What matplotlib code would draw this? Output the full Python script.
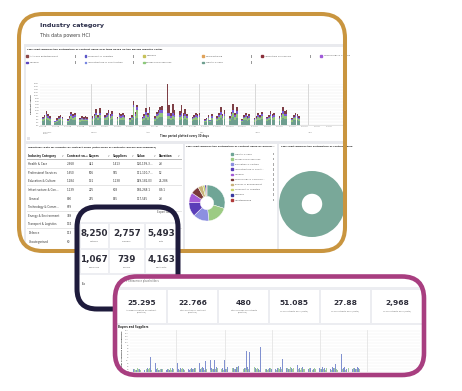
import matplotlib
matplotlib.use("Agg")
import matplotlib.pyplot as plt
from matplotlib.patches import FancyBboxPatch, Rectangle
from matplotlib.transforms import blended_transform_factory
import numpy as np
import pandas as pd

plt.rcParams['font.family'] = ['DejaVu Sans']

W, H = 462, 391

# ---------------- data ----------------
card_title = "Industry category"
card_subtitle = "This data powers HCI"
chart1_title = ("This chart displays the distribution of contract value over time "
                "based on the buying industry sector")
chart1_ylabel = "Contract value"
chart1_xlabel = "Time period plotted every 30 days"

legend_row1 = ["Arts and Entertainment", "Transport & Logistics", "Defence",
               "Manufacturing", "Agriculture & Fisheries", "Technology & Comms"]
legend_row1_colors = ["#8C4A4A", "#5A55C8", "#C7C25A", "#E0A35A", "#8B2F3A", "#A05AD8"]
legend_row2 = ["General", "Infrastructure & Construction", "Professional Services", "Health & Care"]
legend_row2_colors = ["#5B45C0", "#7080E0", "#8CC97A", "#6E9E8F"]

origin_date = "2020-02-02"
first_bar_date = "2020-02-03"
month_starts = ["2020-03-01", "2020-04-01", "2020-05-01", "2020-06-01", "2020-07-01"]
month_label_dates = ["2020-02-03", "2020-03-01", "2020-04-01", "2020-05-01", "2020-06-01", "2020-07-01"]
month_label_names = ["February\n2020", "March", "April", "May", "June", "July"]

# daily (weekday) contract value per sector, stacked
health_care = [4,5,6,5,4, 2,3,4,5,4, 3,4,6,5,5, 3,4,4,4,4, 4,5,7,5,7,
               5,5,7,5,6, 4,5,5,5,5, 3,5,8,6,7, 4,5,7,5,8, 4,6,7,8,8,
               6,6,5,6,5, 5,6,5,6,5, 4,5,5,5,5, 3,3,5,3,5, 4,5,7,5,6,
               4,6,8,5,7, 3,5,5,4,5, 3,4,5,5,6, 4,5,6,5,5, 4,5,7,6,6,
               3,5,5,5,4]
professional = [2,2,3,2,2, 1,1,2,2,2, 1,2,3,2,3, 2,2,1,2,1, 2,2,3,2,3,
                2,3,3,2,3, 2,3,2,3,2, 2,2,10,3,8, 2,2,3,3,4, 2,3,3,4,4,
                3,3,2,3,3, 3,3,2,3,2, 2,2,3,2,3, 1,2,2,1,2, 2,3,3,2,3,
                2,3,4,3,4, 1,2,3,2,2, 2,2,3,2,3, 2,2,3,2,3, 2,3,4,3,3,
                2,2,3,2,2]
infrastructure = [1,1,2,2,1, 1,1,1,1,1, 1,1,2,2,2, 1,1,1,1,1, 1,2,2,1,2,
                  1,2,2,2,2, 1,2,2,2,1, 1,1,3,2,3, 1,2,3,2,3, 1,2,2,3,3,
                  3,3,2,3,2, 2,3,2,2,2, 1,1,2,2,2, 1,1,1,1,2, 1,2,3,2,2,
                  1,2,3,2,3, 1,1,2,1,2, 1,1,2,1,2, 1,1,2,2,2, 1,2,3,2,2,
                  1,1,2,2,1]
other_sectors = [1,2,3,2,2, 0,2,2,2,1, 1,2,2,2,2, 1,2,2,2,2, 2,2,4,2,5,
                 2,2,3,2,3, 1,2,2,2,2, 1,2,4,2,2, 1,2,4,2,3, 2,2,3,3,4,
                 30,8,3,10,5, 4,8,3,5,2, 1,2,2,2,2, 1,1,2,0,2, 2,2,5,2,4,
                 2,2,6,2,4, 1,2,2,2,2, 1,2,2,2,2, 1,2,3,2,2, 2,2,4,3,4,
                 1,2,2,2,2]
stack_colors = ["#6E9E8F", "#93C47D", "#7B5CD6", "#7E3F46"]

# table
table_title = "Industries: Data for Industry by contract value (Total value of contracts, buyers and suppliers)"
table_headers = ["Industry Category", "Contract va...", "Buyers", "Suppliers", "Value", "Duration"]
table_rows = [
    ["Health & Care", "2,668", "441", "1,413", "120,199,3...", "2d"],
    ["Professional Services", "1,650", "506", "985", "111,110,7...", "12"],
    ["Education & Culture", "1,284", "131", "1,138", "149,182,03", "25,286"],
    ["Infrastructure & Con...", "1,139", "225", "608", "186,268.1", "8.3/1"],
    ["General", "800", "235", "545", "117,545", "2d"],
    ["Technology & Comm...", "659", "", "", "", ""],
    ["Energy & Environment", "389", "", "", "", ""],
    ["Transport & Logistics", "174", "", "", "", ""],
    ["Defence", "113", "", "", "", ""],
    ["Uncategorised", "60", "", "", "", ""],
]

# pie
pie_title = "This chart displays the distribution of contract value by buying..."
pie_labels = ["Health & Care", "Professional Services", "Education & Culture",
              "Infrastructure & Const...", "General", "Technology & Commun...",
              "Energy & Environment", "Transport & Logistics", "Defence", "Uncategorised"]
pie_values = [2668, 1650, 1284, 1139, 800, 659, 389, 174, 113, 60]
pie_colors = ["#6FA596", "#9CCB83", "#8C8FE0", "#5A3DB8", "#A45CD6",
              "#7A3A3A", "#C9B27A", "#C8D36A", "#3A3AA0", "#B03A3A"]

right_title = "This chart displays the distribution of contract value"
right_values = [1]
right_colors = ["#79A899"]

# KPI card (navy)
kpi2_values = ["8,250", "2,757", "5,493", "1,067", "739", "4,163"]
kpi2_labels = ["Notices", "Tenders", "Lots", "Suppliers", "Buyers", "Contracts"]

# KPI card (magenta)
kpi3_values = ["25.295", "22.766", "480", "51.085", "27.88", "2,968"]
kpi3_labels = ["Average duration of contract\n(months)", "Total duration of contract\n(months)",
               "Total number of contracts\n(months)", "% of contracts for 1 (Outs)",
               "% of contracts for 2 (Outs)", "% of contracts for 3 (Outs)"]
chart3_title = "Buyers and Suppliers"
chart3_ylabel = "Number of Buyers and Suppliers"
buyers = [3,4,2,5,3, 2,3,4,3,15, 9,3,2,4,3, 2,3,2,3,4, 9,3,4,2,3,
          3,2,4,3,4, 9,3,5,4,11, 12,4,3,12,5, 12,4,12,3,5, 12,4,3,5,6,
          42,4,22,5,20, 10,4,8,3,26, 4,3,5,4,3, 3,4,3,5,13, 4,3,5,4,12,
          7,4,3,5,9, 3,4,5,3,4, 4,3,5,4,8, 3,5,4,8,4, 18,4,5,3,6,
          3,4,3,5,4]
suppliers = [3,2,4,3,2, 2,3,3,4,2, 3,4,2,3,3, 2,3,4,2,3, 3,2,3,4,2,
             4,3,2,3,4, 3,4,3,2,3, 2,3,5,3,4, 3,2,4,3,2, 4,3,3,5,3,
             3,4,2,3,4, 5,3,4,2,3, 3,2,3,4,3, 2,4,3,3,2, 4,3,5,3,4,
             3,2,4,3,3, 4,3,2,4,3, 3,4,3,2,4, 2,3,4,3,2, 3,4,2,3,4,
             4,3,3,2,3]

GOLD = "#C9953F"
NAVY = "#1E1B3C"
MAG = "#A83E80"
BG_GREY = "#E9EAEE"
TXT = "#2B2E4A"

# ---------------- helpers ----------------
fig = plt.figure(figsize=(W / 100, H / 100), dpi=100)


def layer(z):
    ax = fig.add_axes([0, 0, 1, 1])
    ax.set_xlim(0, W)
    ax.set_ylim(H, 0)
    ax.axis('off')
    ax.set_zorder(z)
    return ax


def box_axes(x0, y0, x1, y1, z):
    ax = fig.add_axes([x0 / W, 1 - y1 / H, (x1 - x0) / W, (y1 - y0) / H])
    ax.set_zorder(z)
    ax.patch.set_alpha(0)
    return ax


def rect(ax, x0, y0, x1, y1, color, clip=None, z=2):
    r = Rectangle((x0, y0), x1 - x0, y1 - y0, facecolor=color, edgecolor='none', zorder=z)
    ax.add_patch(r)
    if clip is not None:
        r.set_clip_path(clip)
    return r


def rounded(ax, x0, y0, x1, y1, rad, fc, ec, lw, z):
    p = FancyBboxPatch((x0, y0), x1 - x0, y1 - y0,
                       boxstyle=f"round,pad=0,rounding_size={rad}",
                       facecolor=fc, edgecolor=ec, linewidth=lw, zorder=z)
    ax.add_patch(p)
    return p


def txt(ax, x, y, s, size, color=TXT, weight='normal', ha='left', va='center', z=5, **kw):
    return ax.text(x, y, s, fontsize=size, color=color, fontweight=weight,
                   ha=ha, va=va, zorder=z, **kw)


def to_days(dates):
    return (pd.to_datetime(dates) - pd.Timestamp(origin_date)).days.values


bar_days = to_days(pd.bdate_range(first_bar_date, periods=len(health_care)))
week_ticks = pd.date_range(first_bar_date, periods=24, freq="7D")
week_days = to_days(week_ticks)
week_labels = [d.strftime("%d %b") for d in week_ticks]
sep_days = to_days(month_starts)

# ================= CARD 1 (gold) =================
L0 = layer(0)
c1 = rounded(L0, 19, 14, 345, 251, 24, "white", "none", 0, 1)
rect(L0, 24, 44, 347, 253, BG_GREY, clip=c1)
rect(L0, 26, 47, 347, 140.5, "white", clip=c1, z=3)
rect(L0, 26, 143.5, 182.5, 253, "white", clip=c1, z=3)
rect(L0, 184.5, 143.5, 277, 253, "white", clip=c1, z=3)
rect(L0, 279, 143.5, 347, 253, "white", clip=c1, z=3)

txt(L0, 40, 25.5, card_title, 4.6, TXT, 'bold')
txt(L0, 40, 35, card_subtitle, 3.4, "#444444")

txt(L0, 27, 49.5, chart1_title, 1.75, "#222222", 'bold')
leg_x = [27, 85.5, 144, 203, 262, 321]
leg_sep = [75, 133, 192.5, 251, 310]
for i, (lab, col) in enumerate(zip(legend_row1, legend_row1_colors)):
    L0.add_patch(Rectangle((leg_x[i] - 0.8, 55.2), 1.6, 1.6, color=col, zorder=5))
    txt(L0, leg_x[i] + 2.5, 56, lab, 1.7, "#555555")
for i, (lab, col) in enumerate(zip(legend_row2, legend_row2_colors)):
    L0.add_patch(Rectangle((leg_x[i] - 0.8, 61.9), 1.6, 1.6, color=col, zorder=5))
    txt(L0, leg_x[i] + 2.5, 62.7, lab, 1.7, "#555555")
for sx in leg_sep:
    rect(L0, sx, 54.5, sx + 0.6, 57.5, "#9A9A9A", z=5)
for sx in leg_sep[:4]:
    rect(L0, sx, 61.2, sx + 0.6, 64.2, "#9A9A9A", z=5)

txt(L0, 185, 136, chart1_xlabel, 1.8, "#333333", 'bold', ha='center')
rect(L0, 26.5, 136.5, 30, 140, "#E3E3E8", z=5)

# stacked bar chart
ax1 = box_axes(40, 84, 344, 125, 1)
bottom = np.zeros(len(bar_days))
for vals, col in zip([health_care, professional, infrastructure, other_sectors], stack_colors):
    ax1.bar(bar_days, vals, width=0.9, bottom=bottom, color=col, linewidth=0, zorder=3)
    bottom += np.array(vals)
ax1.set_xlim(-0.56, 170.2)
ax1.set_ylim(0, 42)
for s in ['top', 'right', 'left']:
    ax1.spines[s].set_visible(False)
ax1.spines['bottom'].set_color("#CCCCCC")
ax1.spines['bottom'].set_linewidth(0.4)
ax1.set_yticks(np.arange(0, 43, 3))
ax1.set_yticklabels([f"{2 * i}M" for i in range(15)], fontsize=1.5, color="#888888")
ax1.set_xticks(week_days)
ax1.set_xticklabels(week_labels, fontsize=1.5, color="#888888")
ax1.tick_params(length=0, pad=0.8)
ax1.grid(axis='y', color="#DDDDDD", linestyle=(0, (1, 1)), linewidth=0.35, zorder=0)
for d in sep_days:
    ax1.axvline(d, color="#D2D2D2", linewidth=0.6, zorder=1)
trans1 = blended_transform_factory(ax1.transData, ax1.transAxes)
for d, name in zip(to_days(month_label_dates), month_label_names):
    ax1.text(d, -0.16, name, transform=trans1, fontsize=1.5, color="#888888", va='top', ha='left')
ax1.set_ylabel(chart1_ylabel, fontsize=1.7, fontweight='bold', color="#333333", labelpad=1.5)

# table
txt(L0, 28, 147, table_title, 1.7, "#222222", 'bold')
col_x = [28.5, 67, 89, 113, 136.5, 159]
col_caret = [62, 86, 108, 132, 154, 178]
for x, hd, cx in zip(col_x, table_headers, col_caret):
    txt(L0, x, 155.7, hd, 2.0, "#222222", 'bold')
    txt(L0, cx, 155.7, "v", 1.8, "#777777")
rect(L0, 27, 159.2, 182, 159.7, "#BBBBBB", z=4)
row_y = 164.2
for row in table_rows:
    for x, val in zip(col_x, row):
        if val:
            txt(L0, x, row_y, val, 2.0, "#333333")
    rect(L0, 27, row_y + 4.1, 182, row_y + 4.4, "#E6E6E6", z=4)
    row_y += 8.6

# pie panel
txt(L0, 186, 146.5, pie_title, 1.7, "#222222", 'bold')
axp = box_axes(189, 185, 225, 221, 1)
axp.pie(pie_values, colors=pie_colors, startangle=90, counterclock=False,
        wedgeprops=dict(width=0.63, edgecolor='white', linewidth=0.3))
axp.set_xlim(-1, 1)
axp.set_ylim(-1, 1)
axp.axis('off')
ly = 154
for lab, col in zip(pie_labels, pie_colors):
    L0.add_patch(Rectangle((231.2, ly - 0.8), 1.6, 1.6, color=col, zorder=5))
    txt(L0, 235, ly, lab, 1.7, "#555555")
    rect(L0, 272.5, ly - 1.3, 273.5, ly + 1.3, "#AAAAAA", z=5)
    ly += 5.1

# right panel donut
txt(L0, 281, 146.2, right_title, 1.7, "#222222", 'bold')
axr = box_axes(279, 171, 345, 237, 1)
axr.pie(right_values, colors=right_colors, startangle=90,
        wedgeprops=dict(width=0.69, linewidth=0))
axr.set_xlim(-1, 1)
axr.set_ylim(-1, 1)
axr.axis('off')

# card 1 border
L1 = layer(1.5)
rounded(L1, 19, 14, 345, 251, 24, "none", GOLD, 2.9, 2)

# ================= CARD 2 (navy) =================
L2 = layer(2)
c2 = rounded(L2, 77, 207, 178, 309, 20, "white", "none", 0, 1)
rect(L2, 79, 221.5, 177, 274.5, "#EDEEF2", clip=c2)
txt(L2, 172, 212.5, "Export data", 1.8, "#555555", ha='right')
tiles2_x = [(81, 107.5), (110, 143.5), (146, 177)]
tiles2_y = [(224, 248), (250, 272.5)]
k = 0
for (y0, y1) in tiles2_y:
    for (x0, x1) in tiles2_x:
        rect(L2, x0, y0, x1, y1, "white", clip=c2, z=3)
        cx = (x0 + x1) / 2
        txt(L2, cx, y0 + 9.3, kpi2_values[k], 6.3, "#2E2E3A", 'bold', ha='center')
        txt(L2, cx, y0 + 17.5, kpi2_labels[k], 1.7, "#666666", ha='center')
        k += 1
rect(L2, 79, 278.5, 177, 279, "#DDDDDD", clip=c2, z=3)
txt(L2, 81.5, 284, "Tax", 1.8, "#444444")
rect(L2, 79, 288.5, 177, 289, "#EEEEEE", clip=c2, z=3)
rounded(L2, 77, 207, 178, 309, 20, "none", NAVY, 3.6, 10)

# ================= CARD 3 (magenta) =================
L3 = layer(3)
c3 = rounded(L3, 115, 276.5, 424, 375, 22, "white", "none", 0, 1)
txt(L3, 126, 281.3, "\u25be Show more placeholders", 1.8, "#666666")
rect(L3, 116, 286.5, 424, 377, "#ECEDF1", clip=c3)
tiles3_x = [(117, 166), (168, 217), (219, 267.5), (270, 318.5), (321, 369.5), (372, 422)]
for i, (x0, x1) in enumerate(tiles3_x):
    rect(L3, x0, 289.5, x1, 322.5, "white", clip=c3, z=3)
    cx = (x0 + x1) / 2
    txt(L3, cx, 303, kpi3_values[i], 5.4, "#2E2E3A", 'bold', ha='center')
    txt(L3, cx, 311.5, kpi3_labels[i], 1.5, "#666666", ha='center', linespacing=1.1)
rect(L3, 117, 324.5, 422, 377, "white", clip=c3, z=3)
txt(L3, 118.5, 327.3, chart3_title, 1.8, "#222222", 'bold')

ax3 = box_axes(130, 330, 420, 372, 4)
ax3.bar(bar_days - 0.24, buyers, width=0.5, color="#8191D0", linewidth=0, zorder=3)
ax3.bar(bar_days + 0.24, suppliers, width=0.5, color="#A2CC9F", linewidth=0, zorder=3)
ax3.set_xlim(-1.4, 183.8)
ax3.set_ylim(0, 43)
for s in ['top', 'right', 'left', 'bottom']:
    ax3.spines[s].set_visible(False)
ax3.set_yticks(np.arange(0, 43, 3))
ax3.set_yticklabels([str(10 * i) for i in range(15)], fontsize=1.4, color="#888888")
ax3.set_xticks([])
ax3.tick_params(length=0, pad=0.8)
ax3.grid(axis='y', color="#E2E2E2", linestyle=(0, (1, 1)), linewidth=0.35, zorder=0)
for d in sep_days:
    ax3.axvline(d, color="#E0E0E0", linewidth=0.5, zorder=1)
ax3.set_ylabel(chart3_ylabel, fontsize=1.6, fontweight='bold', color="#333333", labelpad=1.2)

L4 = layer(5)
rounded(L4, 115, 276.5, 424, 375, 22, "none", MAG, 3.3, 2)

fig.savefig("out.png", dpi=100)
